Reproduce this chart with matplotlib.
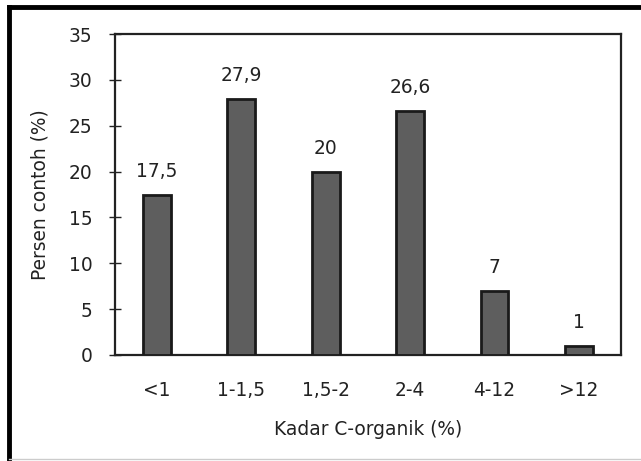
import matplotlib
matplotlib.use("Agg")
import matplotlib.pyplot as plt
from matplotlib.lines import Line2D

categories = ["<1", "1-1,5", "1,5-2", "2-4", "4-12", ">12"]
values = [17.5, 27.9, 20, 26.6, 7, 1]
labels = ["17,5", "27,9", "20", "26,6", "7", "1"]

fig = plt.figure(figsize=(6.41, 4.61), dpi=100)
ax = fig.add_axes([0.179, 0.230, 0.790, 0.696])

x = list(range(len(categories)))
ax.bar(x, values, width=0.33, color="#5e5e5e", edgecolor="#1a1a1a", linewidth=2, zorder=3)
for xi, v, lab in zip(x, values, labels):
    ax.text(xi, v + 1.5, lab, ha="center", va="bottom", fontsize=13.4, color="#222222")

ax.set_xlim(-0.5, 5.5)
ax.set_ylim(0, 35)
ax.set_yticks(range(0, 36, 5))
ax.set_xticks(x)
ax.set_xticklabels(categories)
ax.tick_params(axis="y", direction="inout", length=8, width=1, labelsize=13.4, colors="#222222", pad=12)
ax.tick_params(axis="x", length=0, labelsize=13.4, colors="#222222", pad=19)
for s in ax.spines.values():
    s.set_linewidth(1.6)
    s.set_color("#222222")

ax.set_xlabel("Kadar C-organik (%)", fontsize=13.4, color="#222222", labelpad=14)
ax.set_ylabel("Persen contoh (%)", fontsize=13.4, color="#222222", labelpad=14)

# outer frame (cropped)
fig.add_artist(Line2D([0.014, 1.0], [0.985, 0.985], transform=fig.transFigure, color="black", lw=3.5))
fig.add_artist(Line2D([0.014, 0.014], [0.0, 0.985], transform=fig.transFigure, color="black", lw=3.5))
fig.add_artist(Line2D([0.014, 1.0], [0.004, 0.004], transform=fig.transFigure, color="#cccccc", lw=1))

fig.savefig("out.png", dpi=100)
